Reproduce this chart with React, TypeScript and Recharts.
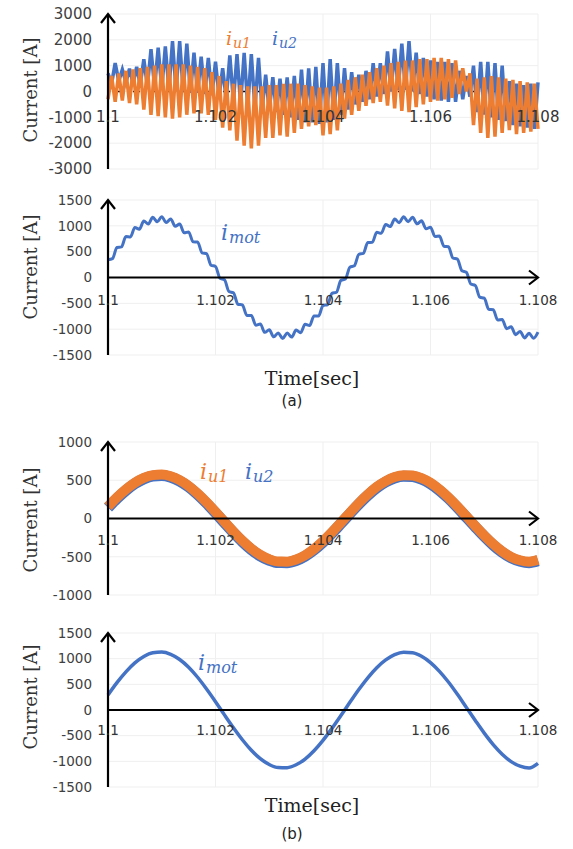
import { CartesianGrid, Line, LineChart, ReferenceLine, XAxis, YAxis } from "recharts";

const T0 = 1.1;
const SPAN = 0.008;
const timeTicks = [1.1, 1.102, 1.104, 1.106, 1.108];

// (a) upper: arm currents, sampled every SPAN/120
const iu2A = [
  700, 300, 1100, 400, 850, 350, 880, 300, 950, 250, 1250, 200, 1640, 150, 1700, 100, 1750, 50, 1950, 0,
  1950, 0, 1850, -50, 1500, -50, 1350, -100, 1300, -150, 1150, -200, 900, -300, 1400, -400, 1450, -500, 1500, -600,
  1450, -650, 1300, -700, 650, -750, 550, -800, 500, -900, 550, -1000, 600, -1100, 850, -1200, 900, -1200, 950, -1250,
  1100, -1200, 1250, -1100, 1100, -900, 900, -700, 750, -500, 650, -400, 800, -300, 1100, -200, 1100, -100, 1550, 0,
  1650, 50, 1850, 50, 1950, 0, 1500, -100, 1300, -200, 1200, -300, 1150, -350, 1150, -400, 1100, -400, 800, -300,
  600, -200, 1000, -800, 1150, -900, 1150, -1000, 1100, -1100, 1000, -1150, 400, -1300, 300, -1350, 250, -1400, 300, -1450,
  350,
];
const iu1A = [
  -300, 600, -400, 700, -350, 800, -450, 850, -500, 900, -700, 950, -900, 1000, -950, 1050, -1000, 1050, -1050, 1050,
  -1000, 1050, -900, 1000, -850, 950, -850, 900, -900, 750, -1100, 600, -1400, 400, -1500, 300, -1900, 250, -2100, 200,
  -2200, 200, -2100, 200, -1800, 250, -1800, 250, -1700, 300, -1750, 300, -1600, 300, -1450, 250, -1350, 200, -1300, 150,
  -1700, 150, -1650, 200, -1500, 300, -1050, 450, -900, 550, -750, 650, -550, 750, -450, 900, -400, 1000, -550, 1100,
  -650, 1150, -750, 1200, -800, 1200, -600, 1250, -500, 1250, -400, 1300, -350, 1300, -300, 1250, -250, 1200, -100, 900,
  0, 700, -1300, 500, -1600, 550, -1800, 600, -1750, 550, -1600, 500, -1500, 450, -1650, 400, -1600, 350, -1550, 300,
  -1450,
];

// (a) lower: motor current with ripple, sampled every SPAN/96
const imotA = [
  342, 364, 582, 592, 793, 786, 967, 936, 1092, 1035, 1164, 1078, 1178, 1063, 1134, 990, 1034, 864, 883, 690,
  688, 479, 460, 238, 213, -16, -45, -271, -296, -517, -530, -736, -735, -922, -898, -1062, -1012, -1149, -1072, -1180,
  -1073, -1153, -1017, -1067, -905, -929, -743, -747, -541, -528, -308, -285, -56, -29, 199, 226, 449, 466, 677, 681,
  874, 856, 1026, 985, 1130, 1061, 1177, 1079, 1166, 1039, 1097, 942, 974, 794, 803, 603, 595, 377, 356, 131,
  101, -127, -154, -380, -401, -615, -624, -822, -811, -990, -955, -1107, -1045, -1170, -1080, -1175, -1056,
];

// (b) sampled every SPAN/48
const iu1B = [
  155, 275, 380, 468, 531, 567, 574, 552, 502, 426, 327, 212, 87, -43, -171, -290, -394, -476, -533, -563,
  -564, -536, -480, -399, -297, -180, -53, 75, 201, 315, 414, 490, 543, 566, 561, 527, 466, 380, 276, 157,
  30, -98, -222, -334, -429, -502, -546, -564, -540,
];
const iu2B = [
  142, 262, 367, 455, 518, 554, 561, 539, 489, 413, 314, 199, 74, -56, -184, -303, -407, -489, -546, -576,
  -577, -549, -493, -412, -310, -193, -66, 62, 188, 302, 401, 477, 530, 553, 548, 514, 453, 367, 263, 144,
  17, -111, -235, -347, -442, -515, -559, -577, -553,
];
const imotB = [
  292, 532, 743, 917, 1042, 1114, 1128, 1084, 984, 833, 638, 410, 163, -95, -346, -580, -785, -948, -1062, -1122,
  -1123, -1067, -955, -793, -591, -358, -106, 149, 399, 627, 824, 976, 1080, 1127, 1116, 1047, 924, 753, 545, 306,
  51, -204, -451, -674, -861, -1005, -1095, -1130, -1040,
];

const ticks3000 = [-3000, -2000, -1000, 0, 1000, 2000, 3000];
const ticks1500 = [-1500, -1000, -500, 0, 500, 1000, 1500];
const ticks1000 = [-1000, -500, 0, 500, 1000];

const BLUE = "#4472C4";
const ORANGE = "#ED7D31";

function toRows(cols: Record<string, number[]>) {
  const keys = Object.keys(cols);
  const n = cols[keys[0]].length;
  return cols[keys[0]].map((_, i) => {
    const row: Record<string, number> = { t: T0 + (SPAN * i) / (n - 1) };
    keys.forEach((k) => (row[k] = cols[k][i]));
    return row;
  });
}

const rowsA1 = toRows({ iu2: iu2A, iu1: iu1A });
const rowsA2 = toRows({ imot: imotA });
const rowsB1 = toRows({ iu2: iu2B, iu1: iu1B });
const rowsB2 = toRows({ imot: imotB });

const zeroTick = (fontSize: number, half: number, below: number) => (props: any) => (
  <text x={props.x} y={props.y - half + below} textAnchor="middle" fontSize={fontSize} fill="#333" fontFamily="DejaVu Sans">
    {props.payload.value}
  </text>
);

function Panel({ top, plotH, rows, yTicks, fontSize, below, dottedZero, children }: any) {
  const dom = [yTicks[0], yTicks[yTicks.length - 1]];
  return (
    <div style={{ position: "absolute", left: 0, top: top - 10 }}>
      <LineChart width={573} height={plotH + 21} data={rows} margin={{ top: 10, right: 35, bottom: 10, left: 0 }}>
        <CartesianGrid stroke="#efefef" />
        <XAxis
          dataKey="t"
          type="number"
          domain={[1.1, 1.108]}
          ticks={timeTicks}
          height={1}
          axisLine={false}
          tickLine={false}
          tickSize={0}
          tickMargin={0}
          interval={0}
          tick={zeroTick(fontSize, plotH / 2, below)}
        />
        <YAxis
          type="number"
          domain={dom}
          ticks={yTicks}
          width={108}
          interval={0}
          tickLine={false}
          tickSize={0}
          tickMargin={16}
          tick={{ fill: "#404040", fontSize, fontFamily: "DejaVu Sans" }}
          axisLine={{ stroke: "#000", strokeWidth: 2.2, markerStart: "url(#axArrow)" }}
        />
        {dottedZero ? (
          <ReferenceLine y={0} stroke="#000" strokeWidth={1.5} strokeDasharray="2 3" />
        ) : null}
        {children}
        {dottedZero ? null : <ReferenceLine y={0} stroke="#000" strokeWidth={2.2} markerEnd="url(#axArrow)" />}
      </LineChart>
    </div>
  );
}

const serif = "DejaVu Serif";

function Sym({ x, y, color, main, sub, size, subSize }: any) {
  return (
    <text x={x} y={y} fill={color} fontFamily={serif} fontStyle="italic">
      <tspan fontSize={size}>{main}</tspan>
      <tspan fontSize={subSize} dx={1} dy={3}>{sub}</tspan>
    </text>
  );
}

export default function App() {
  return (
    <div style={{ position: "absolute", left: 0, top: 0, width: 573, height: 849, background: "#fff", overflow: "hidden" }}>
      <svg width={0} height={0} style={{ position: "absolute" }}>
        <defs>
          <marker
            id="axArrow"
            viewBox="-12 -9 14 18"
            refX={0}
            refY={0}
            markerWidth={14}
            markerHeight={18}
            markerUnits="userSpaceOnUse"
            orient="auto-start-reverse"
          >
            <path d="M-9,-7 L0,0 L-9,7" fill="none" stroke="#000" strokeWidth={2.2} />
          </marker>
        </defs>
      </svg>

      <Panel top={14} plotH={155} rows={rowsA1} yTicks={ticks3000} fontSize={15} below={30} dottedZero>
        <Line dataKey="iu2" type="linear" stroke={BLUE} strokeWidth={3.5} dot={false} isAnimationActive={false} />
        <Line dataKey="iu1" type="linear" stroke={ORANGE} strokeWidth={3.5} dot={false} isAnimationActive={false} />
      </Panel>

      <Panel top={200} plotH={155} rows={rowsA2} yTicks={ticks1500} fontSize={13.5} below={27}>
        <Line dataKey="imot" type="monotone" stroke={BLUE} strokeWidth={3} dot={false} isAnimationActive={false} />
      </Panel>

      <Panel top={442} plotH={153} rows={rowsB1} yTicks={ticks1000} fontSize={13.5} below={26}>
        <Line dataKey="iu2" type="monotone" stroke={BLUE} strokeWidth={11} dot={false} isAnimationActive={false} />
        <Line dataKey="iu1" type="monotone" stroke={ORANGE} strokeWidth={10} dot={false} isAnimationActive={false} />
      </Panel>

      <Panel top={633} plotH={154} rows={rowsB2} yTicks={ticks1500} fontSize={13.5} below={25}>
        <Line dataKey="imot" type="monotone" stroke={BLUE} strokeWidth={3.5} dot={false} isAnimationActive={false} />
      </Panel>

      <svg width={573} height={849} style={{ position: "absolute", left: 0, top: 0, pointerEvents: "none" }}>
        {[90, 267, 520, 697].map((cy) => (
          <text
            key={cy}
            x={30}
            y={cy}
            transform={`rotate(-90, 30, ${cy})`}
            textAnchor="middle"
            dominantBaseline="central"
            fontFamily={serif}
            fontSize={18}
            fill="#333"
          >
            Current [A]
          </text>
        ))}
        <Sym x={226} y={45} color={ORANGE} main="i" sub="u1" size={19} subSize={14} />
        <Sym x={272} y={45} color={BLUE} main="i" sub="u2" size={19} subSize={14} />
        <Sym x={221} y={240} color={BLUE} main="i" sub="mot" size={22} subSize={16} />
        <Sym x={200} y={479} color={ORANGE} main="i" sub="u1" size={22} subSize={16} />
        <Sym x={245} y={479} color={BLUE} main="i" sub="u2" size={22} subSize={16} />
        <Sym x={198} y={670} color={BLUE} main="i" sub="mot" size={22} subSize={16} />
        <text x={312} y={385} textAnchor="middle" fontFamily={serif} fontSize={19} fill="#222">Time[sec]</text>
        <text x={292} y={406} textAnchor="middle" fontFamily="DejaVu Sans" fontSize={15} fill="#222">(a)</text>
        <text x={312} y={812} textAnchor="middle" fontFamily={serif} fontSize={19} fill="#222">Time[sec]</text>
        <text x={292} y={839} textAnchor="middle" fontFamily="DejaVu Sans" fontSize={15} fill="#222">(b)</text>
      </svg>
    </div>
  );
}
